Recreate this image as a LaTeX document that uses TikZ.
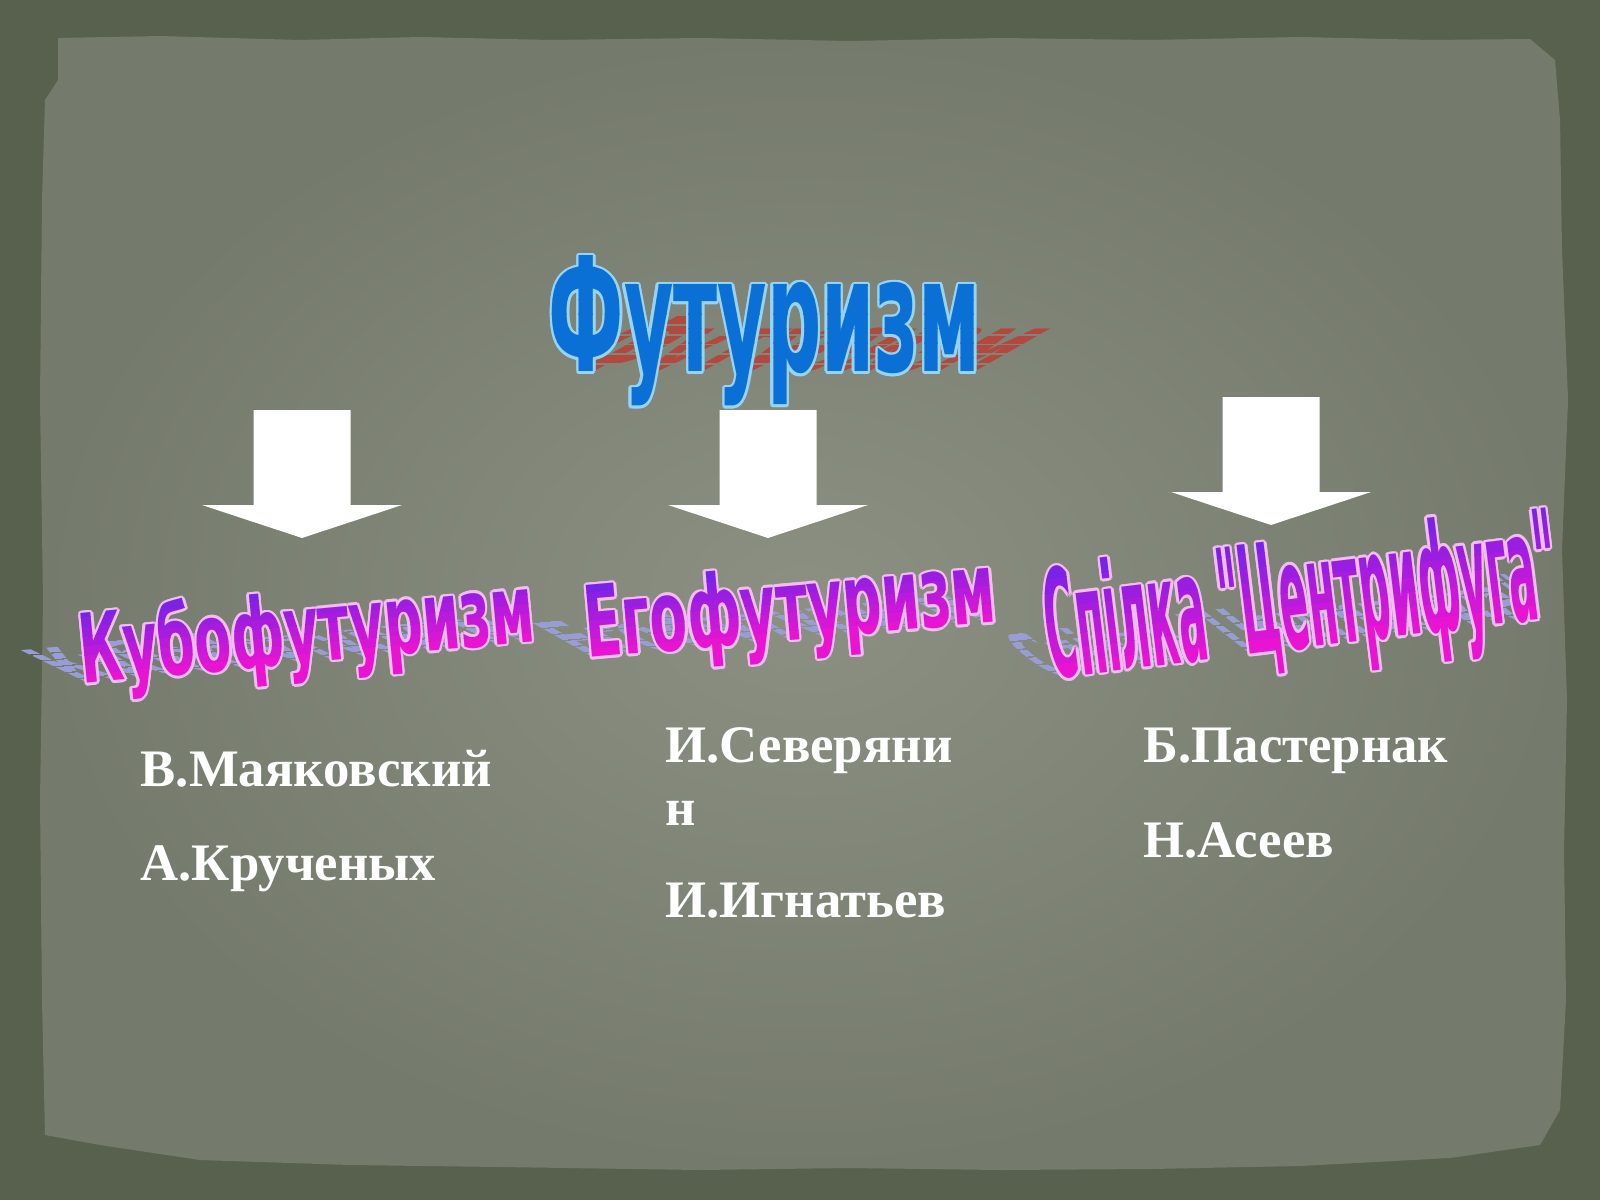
\documentclass[tikz,border=0pt]{standalone}
\usepackage{fontspec}
\setmainfont{Liberation Serif}
\newfontfamily\artfont{DejaVu Sans}
\usepackage{graphicx}
\usepackage{tikz}
\usetikzlibrary{positioning}
\definecolor{frame}{RGB}{88,97,77}
\definecolor{paperlight}{RGB}{139,144,131}
\definecolor{paperdark}{RGB}{116,122,108}
\definecolor{titleblue}{RGB}{10,112,214}
\definecolor{titleline}{RGB}{150,212,245}
\definecolor{titleshade}{RGB}{178,72,62}
\definecolor{subtop}{RGB}{122,34,230}
\definecolor{subbot}{RGB}{232,20,210}
\definecolor{subline}{RGB}{240,190,240}
\definecolor{subshade}{RGB}{152,158,212}
\tikzstyle{artbox} = [
  inner sep=0pt,
  anchor=base west,
  transform shape,
]
\tikzstyle{person} = [
  text=white,
  anchor=base west,
  inner sep=0pt,
  font=\bfseries\fontsize{15}{18}\selectfont,
]
\tikzstyle{blockarrow} = [
  fill=white,
]
% #1 name, #2 baseline start, #3 angle, #4 width, #5 height,
% #6 text, #7 shadow shear, #8 shadow squash
\newcommand{\wordart}[8]{%
  \begin{scope}[shift={#2}, rotate=#3]
    \begin{scope}[cm={1,0,#7,#8,(0,0)}]
      \clip \foreach \k in {0,...,5} {(-2,{#5*\k/6}) rectangle ({#4+2},{#5*(\k+0.78)/6})};
      \node[artbox, text=artshade] (#1-shadow) at (0,0)
        {\resizebox{#4cm}{#5cm}{\artfont\bfseries #6}};
    \end{scope}
    \foreach \a in {0,30,...,330}
      \node[artbox, text=artline] (#1-line-\a) at (\a:0.025)
        {\resizebox{#4cm}{#5cm}{\artfont\bfseries #6}};
    \foreach \i in {0,...,7} {
      \pgfmathsetmacro\ylo{ifthenelse(\i==0,-1,#5*\i/8)}
      \pgfmathsetmacro\yhi{ifthenelse(\i==7,#5+1,#5*(\i+1)/8+0.005)}
      \pgfmathtruncatemacro\mix{100*\i/7}
      \begin{scope}
        \clip (-1,\ylo) rectangle ({#4+1},\yhi);
        \node[artbox, text=arttop!\mix!artbot] (#1-band-\i) at (0,0)
          {\resizebox{#4cm}{#5cm}{\artfont\bfseries #6}};
      \end{scope}
    }
  \end{scope}
}

\begin{document}
\begin{tikzpicture}
  \useasboundingbox (0,0) rectangle (16,12);
  \fill[frame] (0,0) rectangle (16,12);
  % torn paper
  \shade[inner color=paperlight, outer color=paperdark]
    (0.58,11.62) -- (1.6,11.64) -- (3.0,11.60) -- (4.2,11.63) -- (5.5,11.60)
    -- (7.0,11.62) -- (8.5,11.59) -- (10.0,11.62) -- (11.5,11.60) -- (13.0,11.63)
    -- (14.3,11.60) -- (15.3,11.61) -- (15.55,11.40) -- (15.6,10.8) -- (15.62,9.5)
    -- (15.68,8.0) -- (15.62,6.5) -- (15.67,5.0) -- (15.64,3.5) -- (15.66,2.0)
    -- (15.6,0.9) -- (15.4,0.55) -- (14.5,0.42) -- (13.0,0.34) -- (11.5,0.31)
    -- (10.0,0.30) -- (8.5,0.32) -- (7.0,0.30) -- (5.0,0.33) -- (3.5,0.35)
    -- (2.0,0.40) -- (1.0,0.55) -- (0.45,0.65) -- (0.42,2.0) -- (0.40,4.0)
    -- (0.43,6.0) -- (0.40,8.0) -- (0.42,10.0) -- (0.45,11.0) -- (0.58,11.2) -- cycle;

  % title
  \colorlet{arttop}{titleblue}
  \colorlet{artbot}{titleblue}
  \colorlet{artline}{titleline}
  \colorlet{artshade}{titleshade}
  \wordart{futur}{(5.48,8.28)}{0}{4.32}{1.16}{Футуризм}{0.88}{0.5}

  % branches
  \foreach \cx/\ty in {3.02/7.90, 7.68/7.90, 12.71/8.03}
    \fill[blockarrow] (\cx-0.485,\ty) -- ++(0.97,0) -- ++(0,-0.95) -- ++(0.515,0)
      -- ++(-1,-0.33) -- ++(-1,0.33) -- ++(0.515,0) -- cycle;

  \colorlet{arttop}{subtop}
  \colorlet{artbot}{subbot}
  \colorlet{artline}{subline}
  \colorlet{artshade}{subshade}
  \wordart{kubo}{(0.82,5.16)}{5.4}{4.56}{0.76}{Кубофутуризм}{-0.9}{0.55}
  \wordart{ego}{(5.87,5.42)}{5.0}{4.12}{0.75}{Егофутуризм}{-0.8}{0.55}
  \wordart{spilka}{(10.51,5.21)}{7.0}{5.15}{1.14}{Спілка "Центрифуга"}{-0.45}{0.45}

  % poets
  \node[person] (maya) at (1.40,4.14) {В.Маяковский};
  \node[person] (kruch) at (1.40,3.20) {А.Крученых};
  \node[person] (sever) at (6.65,4.38) {И.Северяни};
  \node[person] (severn) at (6.65,3.75) {н};
  \node[person] (ignat) at (6.65,2.83) {И.Игнатьев};
  \node[person] (paster) at (11.43,4.38) {Б.Пастернак};
  \node[person] (aseev) at (11.43,3.43) {Н.Асеев};
\end{tikzpicture}
\end{document}
